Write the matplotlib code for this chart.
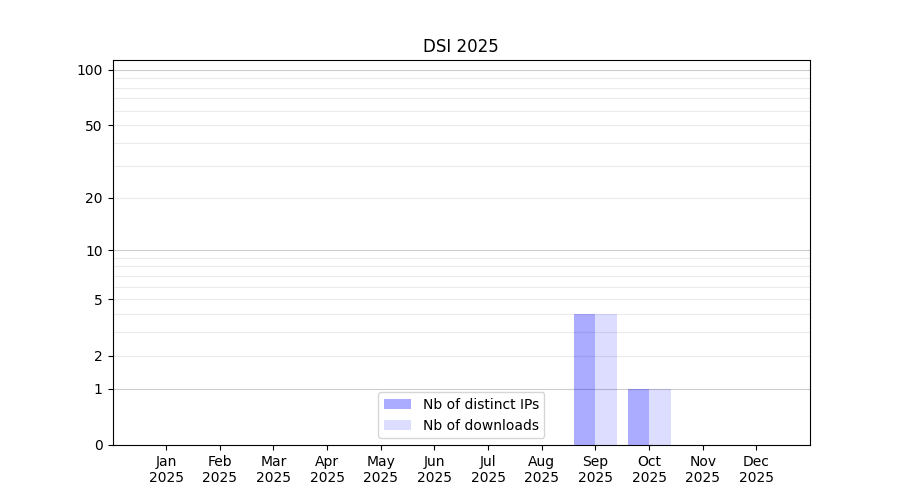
import numpy as np
import matplotlib
matplotlib.use("Agg")
import matplotlib.pyplot as plt

months = ["Jan", "Feb", "Mar", "Apr", "May", "Jun", "Jul", "Aug", "Sep", "Oct", "Nov", "Dec"]
year = "2025"
distinct_ips = [0, 0, 0, 0, 0, 0, 0, 0, 4, 1, 0, 0]
downloads = [0, 0, 0, 0, 0, 0, 0, 0, 4, 1, 0, 0]
y_ticks = [0, 1, 2, 5, 10, 20, 50, 100]
major_grid = [1, 10, 100]
minor_grid = [2, 3, 4, 5, 6, 7, 8, 9, 20, 30, 40, 50, 60, 70, 80, 90]

fig, ax = plt.subplots(figsize=(9, 5), dpi=100)
x = np.arange(len(months))

ax.set_yscale("function", functions=(lambda v: np.log10(1 + np.maximum(v, 0)),
                                     lambda v: 10 ** v - 1))

for v in minor_grid:
    ax.axhline(v, color="#ebebeb", linewidth=0.8, zorder=0.5)
for v in major_grid:
    ax.axhline(v, color="#cccccc", linewidth=0.8, zorder=0.5)

ax.bar(x, distinct_ips, width=-0.4, align="edge", color="blue", alpha=0.33,
       linewidth=0, label="Nb of distinct IPs", zorder=1)
ax.bar(x, downloads, width=0.4, align="edge", color="blue", alpha=0.135,
       linewidth=0, label="Nb of downloads", zorder=1)

ax.set_ylim(0, 113)
ax.set_xlim(-1, 12)
ax.set_yticks(y_ticks)
ax.set_yticklabels([str(t) for t in y_ticks])
ax.yaxis.set_minor_locator(matplotlib.ticker.NullLocator())
ax.set_xticks(x)
ax.set_xticklabels([f"{m}\n{year}" for m in months])
ax.set_title("DSI 2025")
ax.legend(loc="lower center")

fig.savefig("out.png")
